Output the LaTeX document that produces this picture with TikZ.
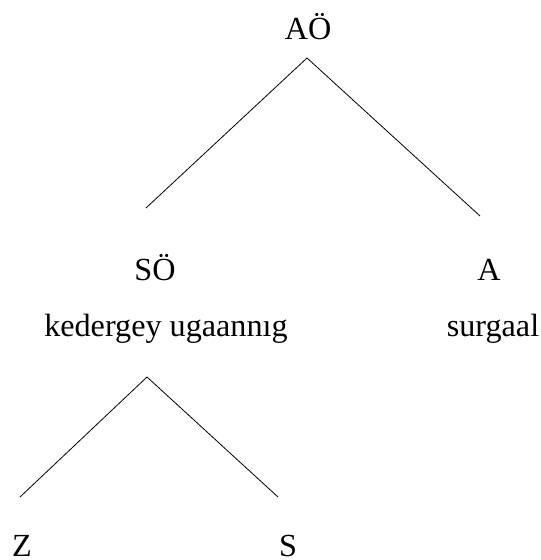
\documentclass[tikz,border=0pt]{standalone}
\usepackage{fontspec}
\setmainfont{Liberation Serif}
\usetikzlibrary{positioning}
\begin{document}
\begin{tikzpicture}[x=0.5pt,y=-0.5pt,
  lbl/.style={anchor=base,inner sep=0pt,font=\fontsize{16.1}{19}\selectfont}]
  \useasboundingbox (0,0) rectangle (540,560);
  % labels
  \node[lbl] (ao) at (308,40) {AÖ};
  \node[lbl] (so) at (155,281) {SÖ};
  \node[lbl] (a) at (489,281) {A};
  \node[lbl] (kedergey) at (166,336) {kedergey ugaannıg};
  \node[lbl] (surgaal) at (493,336) {surgaal};
  \node[lbl] (z) at (22,556) {Z};
  \node[lbl] (s) at (288,556) {S};
  % branch ends
  \coordinate (top) at (307,58);
  \coordinate (topl) at (146,208);
  \coordinate (topr) at (480,216);
  \coordinate (mid) at (147,377);
  \coordinate (midl) at (20,497);
  \coordinate (midr) at (278,497);
  \foreach \a/\b in {top/topl,top/topr,mid/midl,mid/midr} {
    \draw (\a) -- (\b);
  }
\end{tikzpicture}
\end{document}
